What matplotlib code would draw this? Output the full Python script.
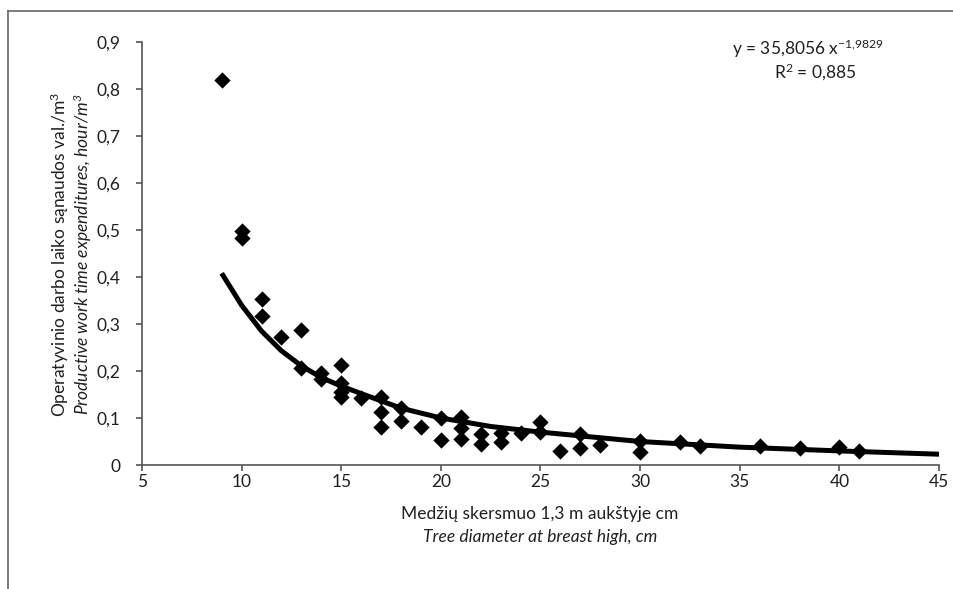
import matplotlib

matplotlib.use("Agg")
import matplotlib.pyplot as plt
from matplotlib.lines import Line2D
from matplotlib.ticker import FuncFormatter

plt.rcParams["font.family"] = ["Lato", "DejaVu Sans"]
plt.rcParams["mathtext.default"] = "regular"

# measured trees: diameter (cm) vs productive work time (h/m3)
diameter = [9, 10, 10, 11, 11, 12, 13, 13, 14, 14, 15, 15, 15, 15, 16,
            17, 17, 17, 18, 18, 19, 20, 20, 21, 21, 21, 22, 22, 23, 23,
            24, 25, 25, 26, 27, 27, 28, 30, 30, 32, 33, 36, 38, 40, 41]
work_time = [0.82, 0.497, 0.482, 0.353, 0.317, 0.272, 0.287, 0.206, 0.195, 0.182,
             0.212, 0.175, 0.155, 0.145, 0.142, 0.145, 0.112, 0.08, 0.122, 0.093,
             0.08, 0.101, 0.053, 0.103, 0.078, 0.056, 0.066, 0.045, 0.068, 0.05,
             0.068, 0.092, 0.07, 0.029, 0.067, 0.037, 0.043, 0.052, 0.027, 0.048,
             0.040, 0.041, 0.036, 0.039, 0.029]

# power trend line as drawn in the source
trend_x = [9, 10, 11, 12, 13, 14, 15, 16, 18, 20, 22.5, 25, 27.5, 30, 35, 40, 45]
trend_y = [0.408, 0.340, 0.285, 0.243, 0.211, 0.186, 0.168, 0.152, 0.121, 0.100,
           0.082, 0.070, 0.060, 0.050, 0.038, 0.030, 0.023]

x_ticks = [5, 10, 15, 20, 25, 30, 35, 40, 45]
y_ticks = [0, 0.1, 0.2, 0.3, 0.4, 0.5, 0.6, 0.7, 0.8, 0.9]

ink = "#231f20"
spine = "#555555"

fig = plt.figure(figsize=(9.54, 5.89), dpi=100)
ax = fig.add_axes([0.1488, 0.2105, 0.8355, 0.7182])

ax.plot(trend_x, trend_y, color="black", lw=3.6, solid_capstyle="butt", zorder=2)
ax.scatter(diameter, work_time, marker="D", s=8.3 ** 2, color="black",
           linewidths=0, zorder=3)

ax.set_xlim(5, 45)
ax.set_ylim(0, 0.9)
ax.set_xticks(x_ticks)
ax.set_yticks(y_ticks)
ax.yaxis.set_major_formatter(FuncFormatter(
    lambda v, _: "0" if v == 0 else f"{v:.1f}".replace(".", ",")))

for side in ("top", "right"):
    ax.spines[side].set_visible(False)
for side in ("left", "bottom"):
    ax.spines[side].set_color(spine)
    ax.spines[side].set_linewidth(1.2)
ax.tick_params(axis="both", direction="out", length=4.5, width=1.2,
               color=spine, labelsize=12.5, labelcolor=ink)
ax.tick_params(axis="y", pad=11)
ax.tick_params(axis="x", pad=2)

# axis titles, Lithuanian over English italic
fig.text(0.566, 0.127, "Medžių skersmuo 1,3 m aukštyje cm", ha="center",
         va="center", fontsize=12.5, color=ink)
fig.text(0.566, 0.088, "Tree diameter at breast high, cm", ha="center",
         va="center", fontsize=12.5, style="italic", color=ink)
fig.text(0.063, 0.568, "Operatyvinio darbo laiko sąnaudos val./m$^3$",
         rotation=90, ha="center", va="center", fontsize=12.5, color=ink)
fig.text(0.087, 0.568, "Productive work time expenditures, hour/m$^3$",
         rotation=90, ha="center", va="center", fontsize=12.5, style="italic",
         color=ink)

ax.text(0.836, 0.985, "y = 35,8056 x$^{−1{,}9829}$", transform=ax.transAxes,
        ha="center", va="center", fontsize=12.5, color=ink)
ax.text(0.845, 0.927, "R$^2$ = 0,885", transform=ax.transAxes,
        ha="center", va="center", fontsize=12.5, color=ink)

# outer frame (top and left edges only)
fig.add_artist(Line2D([8 / 954, 1], [1 - 11 / 589] * 2, color="#666666", lw=1.2))
fig.add_artist(Line2D([8 / 954] * 2, [0, 1 - 11 / 589], color="#666666", lw=1.2))

fig.savefig("out.png", dpi=100)
plt.close(fig)
